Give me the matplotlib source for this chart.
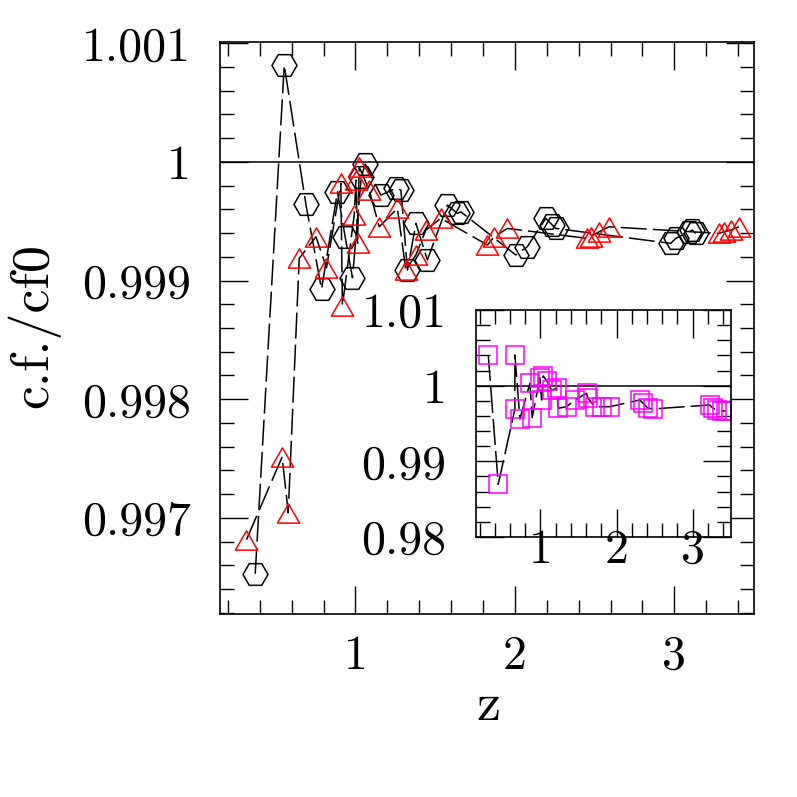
import matplotlib
matplotlib.use("Agg")
import matplotlib.pyplot as plt
from matplotlib.path import Path
from matplotlib.ticker import FixedLocator, MultipleLocator

plt.rcParams['font.family'] = ['cmr10', 'DejaVu Serif']
plt.rcParams['font.size'] = 34.5

# hexagones negros (serie 1)
z_hex = [0.371, 0.553, 0.689, 0.787, 0.887, 0.935, 0.981, 1.036, 1.061, 1.159,
         1.253, 1.285, 1.326, 1.379, 1.451, 1.577, 1.639, 1.661, 2.006, 2.078,
         2.194, 2.235, 2.256, 2.977, 3.009, 3.092, 3.113, 3.134]
cf_hex = [0.996529, 1.000814, 0.999641, 0.998928, 0.999747, 0.999369, 0.999024,
          0.999871, 0.999981, 0.999720, 0.999776, 0.999762, 0.999088, 0.999481,
          0.999173, 0.999636, 0.999566, 0.999579, 0.999215, 0.999285, 0.999524,
          0.999467, 0.999439, 0.999313, 0.999355, 0.999411, 0.999425, 0.999397]

# triangulos rojos (serie 2)
z_tri = [0.316, 0.540, 0.578, 0.647, 0.752, 0.818, 0.908, 0.918, 0.992, 1.003,
         1.013, 1.023, 1.086, 1.149, 1.263, 1.316, 1.379, 1.441, 1.535, 1.828,
         1.870, 1.953, 2.455, 2.476, 2.528, 2.591, 3.280, 3.312, 3.354, 3.406]
cf_tri = [0.996816, 0.997514, 0.997043, 0.999187, 0.999369, 0.999108, 0.999818,
          0.998788, 0.999551, 0.999846, 0.999313, 0.999958, 0.999762, 0.999453,
          0.999608, 0.999088, 0.999215, 0.999425, 0.999524, 0.999299, 0.999369,
          0.999439, 0.999355, 0.999369, 0.999411, 0.999453, 0.999397, 0.999411,
          0.999425, 0.999453]

# cuadrados magenta (recuadro)
z_sq = [0.315, 0.446, 0.665, 0.665, 0.731, 0.862, 0.892, 0.993, 1.016, 1.037,
        1.081, 1.147, 1.213, 1.234, 1.344, 1.453, 1.606, 1.623, 1.715, 1.803,
        1.912, 2.306, 2.345, 2.411, 2.476, 3.224, 3.264, 3.317, 3.382, 3.435]
cf_sq = [1.00405, 0.98697, 0.99692, 1.00405, 0.99560, 1.00031, 0.99577, 1.00105,
         0.99811, 1.00128, 1.00066, 0.99943, 0.99965, 0.99701, 0.99722, 0.99811,
         0.99899, 0.99837, 0.99722, 0.99722, 0.99722, 0.99811, 0.99771, 0.99705,
         0.99692, 0.99745, 0.99705, 0.99678, 0.99665, 0.99665]

main_yticks = [0.997, 0.998, 0.999, 1.0, 1.001]
main_ylabels = ['0.997', '0.998', '0.999', '1', '1.001']
inset_yticks = [0.98, 0.99, 1.0, 1.01]
inset_ylabels = ['0.98', '0.99', '1', '1.01']
xticks = [1, 2, 3]
xlabels = ['1', '2', '3']

W = 797.0
guion = (0, (17, 4))
tri = Path([(-1, -0.866), (1, -0.866), (0, 0.866), (-1, -0.866)], closed=True)

fig = plt.figure(figsize=(7.97, 7.97), dpi=100)

# grafico principal
ax = fig.add_axes([220 / W, 1 - 614 / W, 534 / W, 572 / W])
ax.axhline(1.0, color='k', lw=1.1)
ax.plot(z_hex, cf_hex, ls=guion, color='k', lw=1.1, marker='H', ms=18,
        mfc='none', mec='k', mew=1.1)
ax.plot(z_tri, cf_tri, ls=guion, color='k', lw=1.1, marker=tri, ms=16,
        mfc='none', mec='red', mew=1.1)
ax.set_xlim(0.15, 3.5)
ax.set_ylim(0.99619, 1.00101)
ax.yaxis.set_major_locator(FixedLocator(main_yticks))
ax.set_yticklabels(main_ylabels)
ax.yaxis.set_minor_locator(MultipleLocator(0.0002))
ax.xaxis.set_major_locator(FixedLocator(xticks))
ax.set_xticklabels(xlabels)
ax.xaxis.set_minor_locator(MultipleLocator(0.2))
ax.tick_params(which='both', direction='in', top=True, right=True, width=1)
ax.tick_params(which='major', length=20)
ax.tick_params(which='minor', length=10)
ax.tick_params(axis='y', which='major', pad=21)
ax.tick_params(axis='x', which='major', pad=15)
for s in ax.spines.values():
    s.set_linewidth(1.2)

fig.text(34 / W, 1 - 325 / W, 'c.f./cf0', rotation=90, ha='center',
         va='center', fontsize=39)
fig.text(488 / W, 1 - 707 / W, 'z', ha='center', va='center', fontsize=39)

# recuadro
ax2 = fig.add_axes([475.7 / W, 1 - 537 / W, 255 / W, 227 / W])
ax2.set_facecolor('white')
ax2.axhline(1.0, color='k', lw=1.1)
ax2.plot(z_sq, cf_sq, ls=guion, color='k', lw=1.1, marker='s', ms=13,
         mfc='none', mec='magenta', mew=1.1)
ax2.set_xlim(0.15, 3.5)
ax2.set_ylim(0.98, 1.01)
ax2.yaxis.set_major_locator(FixedLocator(inset_yticks))
ax2.set_yticklabels(inset_ylabels)
ax2.yaxis.set_minor_locator(MultipleLocator(0.002))
ax2.xaxis.set_major_locator(FixedLocator(xticks))
ax2.set_xticklabels(xlabels)
ax2.xaxis.set_minor_locator(MultipleLocator(0.2))
ax2.tick_params(which='both', direction='in', top=True, right=True, width=1)
ax2.tick_params(which='major', length=20)
ax2.tick_params(which='minor', length=10)
ax2.tick_params(axis='y', which='major', pad=21)
ax2.tick_params(axis='x', which='major', pad=-6)
for s in ax2.spines.values():
    s.set_linewidth(1.2)

fig.savefig('out.png', dpi=100)
